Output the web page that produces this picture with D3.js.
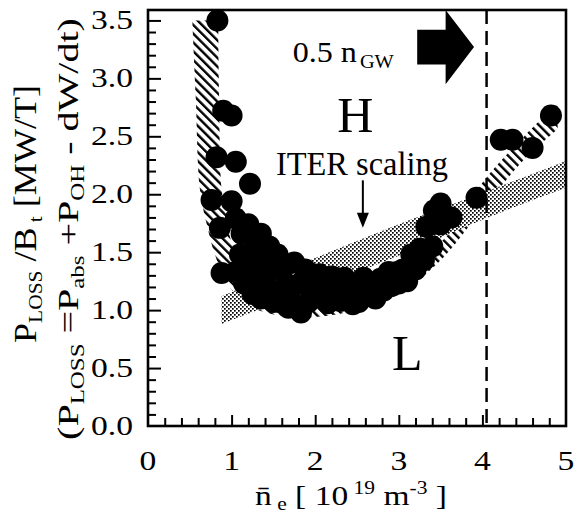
<!DOCTYPE html>
<html>
<head>
<meta charset="utf-8">
<script src="https://cdn.jsdelivr.net/npm/d3@7/dist/d3.min.js"></script>
<style>
  body { margin: 0; background: #fff; }
  svg { display: block; }
  text { font-family: "Liberation Serif", "Times New Roman", serif; fill: #000; }
</style>
</head>
<body>
<div id="chart"></div>
<script>
// measured points: line-averaged density [1e19 m^-3] and P_LOSS/B_t [MW/T]
const densityX = [0.83, 0.90, 1.00, 0.82, 1.05, 1.22, 0.76, 0.86, 0.88, 1.00,
  1.05, 1.12, 1.20, 1.28, 1.35, 1.45, 1.10, 1.18, 1.25, 1.32, 1.40, 1.48, 1.15, 1.25, 1.35, 1.45, 1.50, 1.05,
  1.55, 1.60, 1.65, 1.70, 1.75, 1.83, 1.82, 1.88, 1.92, 1.97, 1.58, 1.68,
  2.00, 2.05, 2.10, 2.15, 2.20, 2.25, 2.30, 2.35, 2.40, 2.45, 2.50, 2.52,
  2.58, 2.62, 2.68, 2.72, 2.78, 2.82, 2.88, 2.92, 2.98, 3.00,
  3.05, 3.10, 3.15, 3.20, 3.25, 3.30, 3.33, 3.40, 3.42, 3.50, 3.50, 3.63,
  3.93, 4.22, 4.36, 4.60, 4.82];
const powerY = [3.50, 2.72, 2.68, 2.32, 2.28, 2.09, 1.95, 1.71, 1.32, 1.94,
  1.79, 1.66, 1.74, 1.58, 1.66, 1.55, 1.48, 1.38, 1.45, 1.31, 1.41, 1.35, 1.23, 1.14, 1.10, 1.18, 1.07, 1.33,
  1.48, 1.35, 1.23, 1.10, 1.41, 0.98, 1.23, 1.35, 1.07, 1.25, 1.07, 1.02,
  1.14, 1.31, 1.21, 1.06, 1.29, 1.17, 1.08, 1.28, 1.17, 1.05, 1.23, 1.07,
  1.28, 1.14, 1.21, 1.10, 1.27, 1.17, 1.33, 1.21, 1.33, 1.23,
  1.35, 1.25, 1.48, 1.35, 1.53, 1.43, 1.72, 1.55, 1.86, 1.74, 1.92, 1.80,
  1.97, 2.47, 2.47, 2.40, 2.68];

// L-H threshold band (hatched): outer and inner edges
const thrOuterX = [0.53, 0.57, 0.62, 0.70, 0.80, 0.95, 1.20, 1.60, 2.00, 2.50, 3.00, 3.50, 4.00, 4.50, 4.90];
const thrOuterY = [3.50, 2.86, 2.05, 1.75, 1.48, 1.23, 1.04, 0.95, 0.94, 1.00, 1.14, 1.43, 1.87, 2.30, 2.56];
const thrInnerX = [0.84, 0.85, 0.88, 0.93, 1.00, 1.15, 1.40, 1.80, 2.20, 2.70, 3.20, 3.60, 4.00, 4.50, 4.90];
const thrInnerY = [3.50, 2.86, 2.05, 1.84, 1.58, 1.35, 1.21, 1.12, 1.12, 1.21, 1.41, 1.66, 2.10, 2.50, 2.78];

// ITER scaling band (dotted)
const iterX = [0.88, 2.0, 3.0, 4.0, 5.05];
const iterUpper = [1.12, 1.45, 1.74, 2.01, 2.30];
const iterLower = [0.88, 1.19, 1.47, 1.78, 2.07];

const nGWhalf = 4.05;
const xTickLabels = ["0", "1", "2", "3", "4", "5"];
const yTickLabels = ["0.0", "0.5", "1.0", "1.5", "2.0", "2.5", "3.0", "3.5"];

const W = 574, H = 524;
const mLeft = 148, mRight = 566, mTop = 10, mBottom = 426;
const dotR = 11;

const svg = d3.select("#chart").append("svg").attr("width", W).attr("height", H);
const x = d3.scaleLinear().domain([0, 5]).range([mLeft, mRight]);
const y = d3.scaleLinear().domain([0, 3.59]).range([mBottom, mTop]);

const defs = svg.append("defs");
const hatch = defs.append("pattern").attr("id", "hatch").attr("patternUnits", "userSpaceOnUse")
  .attr("width", 6.2).attr("height", 10).attr("patternTransform", "rotate(-45)");
hatch.append("rect").attr("width", 6.2).attr("height", 10).attr("fill", "#fff");
hatch.append("rect").attr("x", 0).attr("width", 2.4).attr("height", 10).attr("fill", "#000");

const dots = defs.append("pattern").attr("id", "dots").attr("patternUnits", "userSpaceOnUse")
  .attr("width", 4).attr("height", 4);
dots.append("rect").attr("width", 4).attr("height", 4).attr("fill", "#fff");
dots.append("rect").attr("x", 0).attr("y", 0).attr("width", 1.7).attr("height", 1.7).attr("fill", "#000");
dots.append("rect").attr("x", 2).attr("y", 2).attr("width", 1.7).attr("height", 1.7).attr("fill", "#000");

defs.append("clipPath").attr("id", "plot").append("rect")
  .attr("x", mLeft).attr("y", mTop).attr("width", mRight - mLeft).attr("height", mBottom - mTop);

const g = svg.append("g").attr("clip-path", "url(#plot)");

// hatched threshold band
const edgeOuter = thrOuterX.map((v, i) => [x(v), y(thrOuterY[i])]);
const edgeInner = thrInnerX.map((v, i) => [x(v), y(thrInnerY[i])]);
const line = d3.line().curve(d3.curveCatmullRom);
g.append("path")
  .attr("d", line(edgeOuter) + "L" + line(edgeInner.slice().reverse()).slice(1) + "Z")
  .attr("fill", "url(#hatch)");

// ITER band
const area = d3.area().x((d, i) => x(iterX[i])).y0((d, i) => y(iterLower[i])).y1(d => y(d))
  .curve(d3.curveMonotoneX);
g.append("path").datum(iterUpper).attr("d", area).attr("fill", "url(#dots)");

// data points
g.selectAll("circle.pt").data(densityX).enter().append("circle")
  .attr("class", "pt")
  .attr("cx", d => x(d))
  .attr("cy", (d, i) => y(powerY[i]))
  .attr("r", dotR)
  .attr("fill", "#000");

// 0.5 n_GW line
svg.append("line")
  .attr("x1", x(nGWhalf)).attr("x2", x(nGWhalf)).attr("y1", mTop).attr("y2", mBottom)
  .attr("stroke", "#000").attr("stroke-width", 2.5).attr("stroke-dasharray", "14,7");

// axes (ticks inward)
function ticks(axis, vals, len) {
  return axis.tickValues(vals).tickSize(-len).tickFormat("");
}
const xMinor = d3.range(0.2, 5, 0.2).filter(v => Math.abs(v - Math.round(v)) > 1e-6);
const yMinor = d3.range(0.1, 3.55, 0.1).filter(v => Math.abs(v * 2 - Math.round(v * 2)) > 1e-6);
const axes = [
  [d3.axisBottom(x), xMinor, 8, `translate(0,${mBottom})`],
  [d3.axisBottom(x), [1, 2, 3, 4], 11, `translate(0,${mBottom})`],
  [d3.axisLeft(y), yMinor, 8, `translate(${mLeft},0)`],
  [d3.axisLeft(y), [0.5, 1, 1.5, 2, 2.5, 3, 3.5], 13, `translate(${mLeft},0)`]
];
axes.forEach(([ax, vals, len, tr]) => {
  const a = svg.append("g").attr("transform", tr).call(ticks(ax, vals, len));
  a.select(".domain").remove();
  a.selectAll("line").attr("stroke", "#000").attr("stroke-width", 2);
});

svg.append("rect").attr("x", mLeft).attr("y", mTop).attr("width", mRight - mLeft).attr("height", mBottom - mTop)
  .attr("fill", "none").attr("stroke", "#000").attr("stroke-width", 2.6);

// tick labels
xTickLabels.forEach((t, i) => {
  svg.append("text").attr("transform", `translate(${x(i)},470) scale(1.2,1)`)
    .attr("text-anchor", "middle").attr("font-size", 28).text(t);
});
yTickLabels.forEach((t, i) => {
  svg.append("text").attr("transform", `translate(133,${y(i * 0.5) + 9}) scale(1.2,1)`)
    .attr("text-anchor", "end").attr("font-size", 28).text(t);
});

// stretch a text element along its run to a target length
function fit(sel, target, base) {
  const w = sel.node().getComputedTextLength();
  sel.attr("transform", base + ` scale(${target / w},1)`);
}

// annotations
const t1 = svg.append("text").attr("font-size", 30);
t1.append("tspan").text("0.5 n");
t1.append("tspan").attr("font-size", 19).attr("dy", 6).attr("dx", 3).text("GW");
fit(t1, 98, `translate(${x(1.73)},${y(3.14)})`);

const arrowPts = [[3.22, 3.12], [3.56, 3.12], [3.56, 2.95], [3.9, 3.27], [3.56, 3.59], [3.56, 3.42], [3.22, 3.42]];
svg.append("path")
  .attr("d", d3.line()(arrowPts.map(p => [x(p[0]), y(p[1])])) + "Z")
  .attr("fill", "#000");

svg.append("text").attr("x", x(2.48)).attr("y", y(2.54)).attr("text-anchor", "middle")
  .attr("font-size", 50).text("H");
svg.append("text").attr("x", x(3.1)).attr("y", y(0.48)).attr("text-anchor", "middle")
  .attr("font-size", 50).text("L");
const it = svg.append("text").attr("font-size", 33).text("ITER scaling");
fit(it, 172, `translate(${x(1.53)},${y(2.17)})`);

// thin arrow to the ITER band
svg.append("line").attr("x1", x(2.57)).attr("x2", x(2.57)).attr("y1", y(2.12)).attr("y2", y(1.83))
  .attr("stroke", "#000").attr("stroke-width", 2);
svg.append("path")
  .attr("d", d3.line()([[x(2.57) - 6, y(1.84)], [x(2.57) + 6, y(1.84)], [x(2.57), y(1.71)]]) + "Z")
  .attr("fill", "#000");

// axis titles
const xt = svg.append("text").attr("font-size", 28).attr("text-anchor", "middle");
xt.append("tspan").text("n\u0304");
xt.append("tspan").attr("font-size", 18).attr("dy", 5).text(" e");
xt.append("tspan").attr("dy", -5).text(" [ 10");
xt.append("tspan").attr("font-size", 18).attr("dy", -11).text(" 19");
xt.append("tspan").attr("dy", 11).text("  m");
xt.append("tspan").attr("font-size", 18).attr("dy", -11).text("-3");
xt.append("tspan").attr("dy", 11).text(" ]");
fit(xt, 192, "translate(351,505)");

const yt1 = svg.append("text").attr("font-size", 32).attr("text-anchor", "middle");
yt1.append("tspan").text("P");
yt1.append("tspan").attr("font-size", 19).attr("dy", 6).text("LOSS");
yt1.append("tspan").attr("dy", -6).text(" /B");
yt1.append("tspan").attr("font-size", 19).attr("dy", 6).text(" t");
yt1.append("tspan").attr("dy", -6).text(" [MW/T]");
fit(yt1, 258, "translate(36,214) rotate(-90)");

const yt2 = svg.append("text").attr("font-size", 29).attr("text-anchor", "middle");
yt2.append("tspan").text("(P");
yt2.append("tspan").attr("font-size", 18).attr("dy", 6).text("LOSS");
yt2.append("tspan").attr("dy", -6).text(" =P");
yt2.append("tspan").attr("font-size", 18).attr("dy", 6).text("abs");
yt2.append("tspan").attr("dy", -6).text(" +P");
yt2.append("tspan").attr("font-size", 18).attr("dy", 6).text("OH");
yt2.append("tspan").attr("dy", -6).text(" - dW/dt)");
fit(yt2, 422, "translate(78,229) rotate(-90)");
</script>
</body>
</html>
